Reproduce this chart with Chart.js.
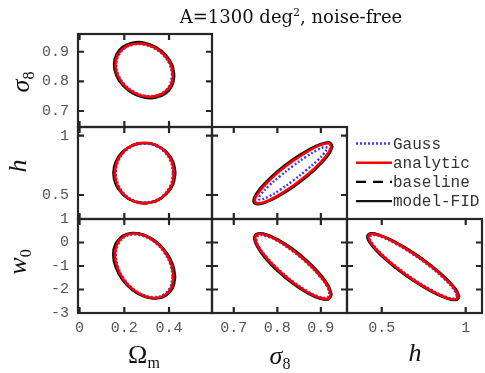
<!DOCTYPE html>
<html>
<head>
<meta charset="utf-8">
<script src="https://cdn.jsdelivr.net/npm/chart.js"></script>
<style>
  html, body { margin: 0; padding: 0; background: #fff; }
  #wrap { position: relative; width: 485px; height: 373px; overflow: hidden; }
  #wrap canvas { position: absolute; left: 0; top: 0; }
  .lab { position: absolute; font-family: "Liberation Serif", serif; font-size: 26px; color: #111; white-space: nowrap; line-height: 1; transform: translate(-50%, -50%); }
  .lab.rot { transform: translate(-50%, -50%) rotate(-90deg); }
  .lab i { font-style: italic; }
  .lab sub { font-size: 16px; vertical-align: -5px; }
  #title { position: absolute; left: 291px; top: 6px; transform: translateX(-50%); font-family: "DejaVu Serif", serif; font-size: 18px; color: #111; white-space: nowrap; }
  #title sup { font-size: 11px; }
</style>
</head>
<body>
<div id="wrap">
  <div id="title">A=1300 deg<sup>2</sup>, noise-free</div>
  <div class="lab rot" style="left:22px; top:82px;"><i>σ</i><sub>8</sub></div>
  <div class="lab rot" style="left:18px; top:166px;"><i>h</i></div>
  <div class="lab rot" style="left:19px; top:262px;"><i>w</i><sub>0</sub></div>
  <div class="lab" style="left:144px; top:356px;">Ω<sub>m</sub></div>
  <div class="lab" style="left:280px; top:357px;"><i>σ</i><sub>8</sub></div>
  <div class="lab" style="left:415px; top:353px;"><i>h</i></div>
</div>
<script>
// tick values and labels
const omTicks = [0, 0.2, 0.4];
const omTickLabels = ['0', '0.2', '0.4'];
const s8Ticks = [0.7, 0.8, 0.9];
const s8TickLabels = ['0.7', '0.8', '0.9'];
const hTicks = [0.5, 1];
const hTickLabels = ['0.5', '1'];
const w0Ticks = [-3, -2, -1, 0, 1];
const w0TickLabels = ['-3', '-2', '-1', '0', '1'];

const seriesNames = ['Gauss', 'analytic', 'baseline', 'model-FID'];

// 1-sigma contours, [x, y]
const omS8Gauss = [[0.414,0.821],[0.404,0.855],[0.378,0.886],[0.337,0.910],[0.289,0.924],[0.241,0.924],[0.201,0.911],[0.174,0.887],[0.164,0.855],[0.174,0.821],[0.201,0.790],[0.241,0.766],[0.289,0.752],[0.337,0.752],[0.378,0.765],[0.404,0.789],[0.414,0.821]];
const omS8Analytic = [[0.418,0.820],[0.408,0.855],[0.380,0.888],[0.338,0.913],[0.289,0.926],[0.240,0.926],[0.198,0.913],[0.170,0.888],[0.160,0.856],[0.170,0.821],[0.198,0.788],[0.240,0.763],[0.289,0.750],[0.338,0.750],[0.380,0.763],[0.408,0.788],[0.418,0.820]];
const omS8Baseline = [[0.421,0.820],[0.411,0.856],[0.383,0.889],[0.340,0.915],[0.289,0.928],[0.238,0.928],[0.195,0.915],[0.167,0.889],[0.157,0.856],[0.167,0.820],[0.195,0.787],[0.238,0.761],[0.289,0.748],[0.340,0.748],[0.383,0.761],[0.411,0.787],[0.421,0.820]];
const omS8Fid = [[0.424,0.819],[0.414,0.856],[0.385,0.890],[0.341,0.916],[0.289,0.931],[0.237,0.931],[0.193,0.917],[0.164,0.891],[0.154,0.857],[0.164,0.820],[0.193,0.786],[0.237,0.760],[0.289,0.745],[0.341,0.745],[0.385,0.759],[0.414,0.785],[0.424,0.819]];

const omHGauss = [[0.418,0.685],[0.408,0.780],[0.381,0.860],[0.339,0.914],[0.290,0.932],[0.241,0.914],[0.200,0.860],[0.172,0.780],[0.162,0.685],[0.172,0.590],[0.200,0.510],[0.241,0.456],[0.290,0.438],[0.339,0.456],[0.381,0.510],[0.408,0.590],[0.418,0.685]];
const omHAnalytic = [[0.422,0.685],[0.412,0.783],[0.383,0.865],[0.341,0.921],[0.290,0.940],[0.239,0.921],[0.197,0.865],[0.168,0.783],[0.158,0.685],[0.168,0.587],[0.197,0.505],[0.239,0.449],[0.290,0.430],[0.341,0.449],[0.383,0.505],[0.412,0.587],[0.422,0.685]];
const omHBaseline = [[0.426,0.685],[0.416,0.783],[0.386,0.865],[0.342,0.921],[0.290,0.940],[0.238,0.921],[0.194,0.865],[0.164,0.783],[0.154,0.685],[0.164,0.587],[0.194,0.505],[0.238,0.449],[0.290,0.430],[0.342,0.449],[0.386,0.505],[0.416,0.587],[0.426,0.685]];
const omHFid = [[0.429,0.685],[0.418,0.782],[0.388,0.863],[0.343,0.919],[0.290,0.937],[0.237,0.919],[0.192,0.863],[0.162,0.782],[0.151,0.685],[0.162,0.588],[0.192,0.507],[0.237,0.451],[0.290,0.433],[0.343,0.451],[0.388,0.507],[0.418,0.588],[0.429,0.685]];

const omW0Gauss = [[0.416,-1.446],[0.406,-0.932],[0.379,-0.427],[0.338,-0.008],[0.289,0.261],[0.240,0.341],[0.199,0.217],[0.172,-0.090],[0.162,-0.534],[0.172,-1.048],[0.199,-1.553],[0.240,-1.972],[0.289,-2.241],[0.338,-2.321],[0.379,-2.197],[0.406,-1.890],[0.416,-1.446]];
const omW0Analytic = [[0.420,-1.460],[0.410,-0.930],[0.382,-0.410],[0.339,0.022],[0.289,0.300],[0.239,0.382],[0.196,0.254],[0.168,-0.062],[0.158,-0.520],[0.168,-1.050],[0.196,-1.570],[0.239,-2.002],[0.289,-2.280],[0.339,-2.362],[0.382,-2.234],[0.410,-1.918],[0.420,-1.460]];
const omW0Baseline = [[0.424,-1.465],[0.414,-0.929],[0.384,-0.404],[0.341,0.032],[0.289,0.313],[0.237,0.396],[0.194,0.266],[0.164,-0.053],[0.154,-0.515],[0.164,-1.051],[0.194,-1.576],[0.237,-2.012],[0.289,-2.293],[0.341,-2.376],[0.384,-2.246],[0.414,-1.927],[0.424,-1.465]];
const omW0Fid = [[0.428,-1.469],[0.417,-0.929],[0.387,-0.398],[0.342,0.042],[0.289,0.326],[0.236,0.409],[0.191,0.279],[0.161,-0.043],[0.150,-0.511],[0.161,-1.051],[0.191,-1.582],[0.236,-2.022],[0.289,-2.306],[0.342,-2.389],[0.387,-2.259],[0.417,-1.937],[0.428,-1.469]];

const s8HGauss = [[0.915,0.898],[0.909,0.905],[0.892,0.879],[0.866,0.823],[0.836,0.745],[0.806,0.658],[0.780,0.575],[0.763,0.508],[0.757,0.468],[0.763,0.461],[0.780,0.487],[0.806,0.543],[0.836,0.621],[0.866,0.708],[0.892,0.791],[0.909,0.858],[0.915,0.898]];
const s8HAnalytic = [[0.924,0.913],[0.917,0.936],[0.898,0.920],[0.870,0.868],[0.836,0.788],[0.802,0.692],[0.774,0.595],[0.755,0.511],[0.748,0.453],[0.755,0.430],[0.774,0.446],[0.802,0.498],[0.836,0.578],[0.870,0.674],[0.898,0.771],[0.917,0.855],[0.924,0.913]];
const s8HBaseline = [[0.925,0.914],[0.918,0.939],[0.899,0.926],[0.870,0.875],[0.836,0.795],[0.802,0.698],[0.773,0.599],[0.754,0.513],[0.747,0.452],[0.754,0.427],[0.773,0.441],[0.802,0.491],[0.836,0.571],[0.870,0.668],[0.899,0.767],[0.918,0.853],[0.925,0.914]];
const s8HFid = [[0.927,0.915],[0.920,0.943],[0.900,0.930],[0.871,0.881],[0.836,0.801],[0.801,0.703],[0.772,0.602],[0.752,0.514],[0.745,0.451],[0.752,0.423],[0.772,0.436],[0.801,0.485],[0.836,0.565],[0.871,0.663],[0.900,0.764],[0.920,0.852],[0.927,0.915]];

const s8W0Gauss = [[0.920,-2.190],[0.914,-1.856],[0.895,-1.395],[0.868,-0.877],[0.836,-0.380],[0.804,0.020],[0.777,0.260],[0.758,0.306],[0.752,0.150],[0.758,-0.184],[0.777,-0.645],[0.804,-1.163],[0.836,-1.660],[0.868,-2.060],[0.895,-2.300],[0.914,-2.346],[0.920,-2.190]];
const s8W0Analytic = [[0.923,-2.220],[0.916,-1.868],[0.897,-1.388],[0.869,-0.851],[0.836,-0.340],[0.803,0.068],[0.775,0.309],[0.756,0.349],[0.749,0.180],[0.756,-0.172],[0.775,-0.652],[0.803,-1.189],[0.836,-1.700],[0.869,-2.108],[0.897,-2.349],[0.916,-2.389],[0.923,-2.220]];
const s8W0Baseline = [[0.924,-2.225],[0.917,-1.862],[0.898,-1.370],[0.870,-0.825],[0.836,-0.310],[0.802,0.098],[0.774,0.334],[0.755,0.365],[0.748,0.185],[0.755,-0.178],[0.774,-0.670],[0.802,-1.215],[0.836,-1.730],[0.870,-2.138],[0.898,-2.374],[0.917,-2.405],[0.924,-2.225]];
const s8W0Fid = [[0.925,-2.230],[0.918,-1.855],[0.899,-1.352],[0.870,-0.800],[0.836,-0.280],[0.802,0.127],[0.773,0.359],[0.754,0.381],[0.747,0.190],[0.754,-0.185],[0.773,-0.688],[0.802,-1.240],[0.836,-1.760],[0.870,-2.167],[0.899,-2.399],[0.918,-2.421],[0.925,-2.230]];

const hW0Gauss = [[0.948,-2.280],[0.928,-1.986],[0.872,-1.546],[0.788,-1.028],[0.688,-0.510],[0.588,-0.071],[0.504,0.221],[0.448,0.324],[0.428,0.220],[0.448,-0.074],[0.504,-0.514],[0.588,-1.032],[0.688,-1.550],[0.788,-1.989],[0.872,-2.281],[0.928,-2.384],[0.948,-2.280]];
const hW0Analytic = [[0.956,-2.310],[0.936,-1.998],[0.878,-1.539],[0.791,-1.003],[0.688,-0.470],[0.585,-0.022],[0.499,0.271],[0.440,0.367],[0.420,0.250],[0.440,-0.062],[0.499,-0.521],[0.585,-1.057],[0.688,-1.590],[0.791,-2.038],[0.878,-2.331],[0.936,-2.427],[0.956,-2.310]];
const hW0Baseline = [[0.959,-2.315],[0.938,-1.995],[0.880,-1.528],[0.792,-0.986],[0.688,-0.450],[0.584,-0.002],[0.496,0.289],[0.438,0.379],[0.417,0.255],[0.438,-0.065],[0.496,-0.532],[0.584,-1.074],[0.688,-1.610],[0.792,-2.058],[0.880,-2.349],[0.938,-2.439],[0.959,-2.315]];
const hW0Fid = [[0.963,-2.320],[0.942,-1.992],[0.882,-1.518],[0.793,-0.970],[0.688,-0.430],[0.583,0.018],[0.494,0.306],[0.434,0.392],[0.413,0.260],[0.434,-0.068],[0.494,-0.542],[0.583,-1.090],[0.688,-1.630],[0.793,-2.078],[0.882,-2.366],[0.942,-2.452],[0.963,-2.320]];

// axis ranges
const AX = {
  om:   { min: -0.007, max: 0.592, ticks: omTicks, labels: omTickLabels },
  s8x:  { min: 0.65,   max: 0.96,  ticks: s8Ticks, labels: s8TickLabels },
  hx:   { min: 0.293,  max: 1.097, ticks: hTicks,  labels: hTickLabels },
  s8y:  { min: 0.646,  max: 0.96,  ticks: s8Ticks, labels: s8TickLabels },
  hy:   { min: 0.298,  max: 1.073, ticks: hTicks,  labels: hTickLabels },
  w0y:  { min: -3,     max: 1,     ticks: w0Ticks, labels: w0TickLabels }
};

// panel frame edges in the page
const COLS = [78, 212, 347, 482];
const ROWS = [34, 127, 219, 313];
const W = 485, H = 373;

const STYLE = [
  { color: '#3a3aff', width: 2.4, dash: [2, 2], order: 1 },
  { color: '#ff0000', width: 2.6, dash: [],     order: 0 },
  { color: '#000000', width: 2.4, dash: [10, 7], order: 2 },
  { color: '#141414', width: 2.4, dash: [],     order: 3 }
];

const FRAME = '#262626';
const TICK_FONT = { family: '"Liberation Mono", monospace', size: 15 };

const panels = [
  { r: 0, c: 0, x: AX.om,  y: AX.s8y, series: [omS8Gauss, omS8Analytic, omS8Baseline, omS8Fid] },
  { r: 1, c: 0, x: AX.om,  y: AX.hy,  series: [omHGauss, omHAnalytic, omHBaseline, omHFid] },
  { r: 1, c: 1, x: AX.s8x, y: AX.hy,  series: [s8HGauss, s8HAnalytic, s8HBaseline, s8HFid], legend: true },
  { r: 2, c: 0, x: AX.om,  y: AX.w0y, series: [omW0Gauss, omW0Analytic, omW0Baseline, omW0Fid] },
  { r: 2, c: 1, x: AX.s8x, y: AX.w0y, series: [s8W0Gauss, s8W0Analytic, s8W0Baseline, s8W0Fid] },
  { r: 2, c: 2, x: AX.hx,  y: AX.w0y, series: [hW0Gauss, hW0Analytic, hW0Baseline, hW0Fid] }
];

function axisOpts(ax, show, dir) {
  return {
    type: 'linear',
    min: ax.min,
    max: ax.max,
    display: show,
    grid: { display: false, drawTicks: false },
    border: { display: false },
    afterBuildTicks: (s) => { s.ticks = ax.ticks.map(v => ({ value: v })); },
    afterFit: (s) => {
      if (!show) return;
      if (dir === 'x') s.height = H - ROWS[3];
      else s.width = COLS[0];
    },
    ticks: {
      font: TICK_FONT,
      color: '#555',
      padding: dir === 'x' ? 6 : 9,
      maxRotation: 0,
      autoSkip: false,
      callback: (v, i) => ax.labels[i]
    }
  };
}

// box with inward ticks on all four sides
function framePlugin(p) {
  return {
    id: 'frame',
    afterDatasetsDraw(chart) {
      const { ctx, chartArea: a } = chart;
      const sx = chart.scales.x, sy = chart.scales.y;
      const len = 6;
      ctx.save();
      ctx.strokeStyle = FRAME;
      ctx.lineWidth = 2.2;
      ctx.beginPath();
      p.x.ticks.forEach(v => {
        const px = sx.getPixelForValue(v);
        ctx.moveTo(px, a.top); ctx.lineTo(px, a.top + len);
        ctx.moveTo(px, a.bottom); ctx.lineTo(px, a.bottom - len);
      });
      p.y.ticks.forEach(v => {
        const py = sy.getPixelForValue(v);
        ctx.moveTo(a.left, py); ctx.lineTo(a.left + len, py);
        ctx.moveTo(a.right, py); ctx.lineTo(a.right - len, py);
      });
      ctx.stroke();
      ctx.strokeRect(a.left, a.top, a.right - a.left, a.bottom - a.top);
      ctx.restore();
    }
  };
}

// legend in the empty cell right of the sigma8-h panel
const legendPlugin = {
  id: 'cellLegend',
  afterDraw(chart) {
    const { ctx } = chart;
    ctx.save();
    ctx.font = '16px "Liberation Mono", monospace';
    ctx.textBaseline = 'middle';
    chart.data.datasets.forEach((ds, i) => {
      const y = 143.5 + i * 19.2;
      ctx.strokeStyle = ds.borderColor;
      ctx.lineWidth = ds.borderWidth;
      ctx.setLineDash(ds.borderDash);
      ctx.beginPath();
      ctx.moveTo(356, y);
      ctx.lineTo(392, y);
      ctx.stroke();
      ctx.setLineDash([]);
      ctx.fillStyle = '#333';
      ctx.fillText(ds.label, 393, y + 1);
    });
    ctx.restore();
  }
};

const wrap = document.getElementById('wrap');

panels.forEach(p => {
  const canvas = document.createElement('canvas');
  canvas.width = W;
  canvas.height = H;
  wrap.insertBefore(canvas, wrap.firstChild);
  const showY = p.c === 0, showX = p.r === 2;
  const plugins = [framePlugin(p)];
  if (p.legend) plugins.push(legendPlugin);

  new Chart(canvas, {
    type: 'scatter',
    data: {
      datasets: p.series.map((pts, i) => ({
        label: seriesNames[i],
        data: pts.map(([x, y]) => ({ x, y })),
        showLine: true,
        fill: false,
        tension: 0.4,
        pointRadius: 0,
        borderColor: STYLE[i].color,
        borderWidth: STYLE[i].width,
        borderDash: STYLE[i].dash,
        order: STYLE[i].order
      }))
    },
    options: {
      responsive: false,
      animation: false,
      devicePixelRatio: 1,
      layout: {
        padding: {
          left: showY ? 0 : COLS[p.c],
          right: W - COLS[p.c + 1],
          top: ROWS[p.r],
          bottom: showX ? 0 : H - ROWS[p.r + 1]
        }
      },
      plugins: { legend: { display: false }, tooltip: { enabled: false } },
      scales: {
        x: axisOpts(p.x, showX, 'x'),
        y: axisOpts(p.y, showY, 'y')
      }
    },
    plugins
  });
});
</script>
</body>
</html>
